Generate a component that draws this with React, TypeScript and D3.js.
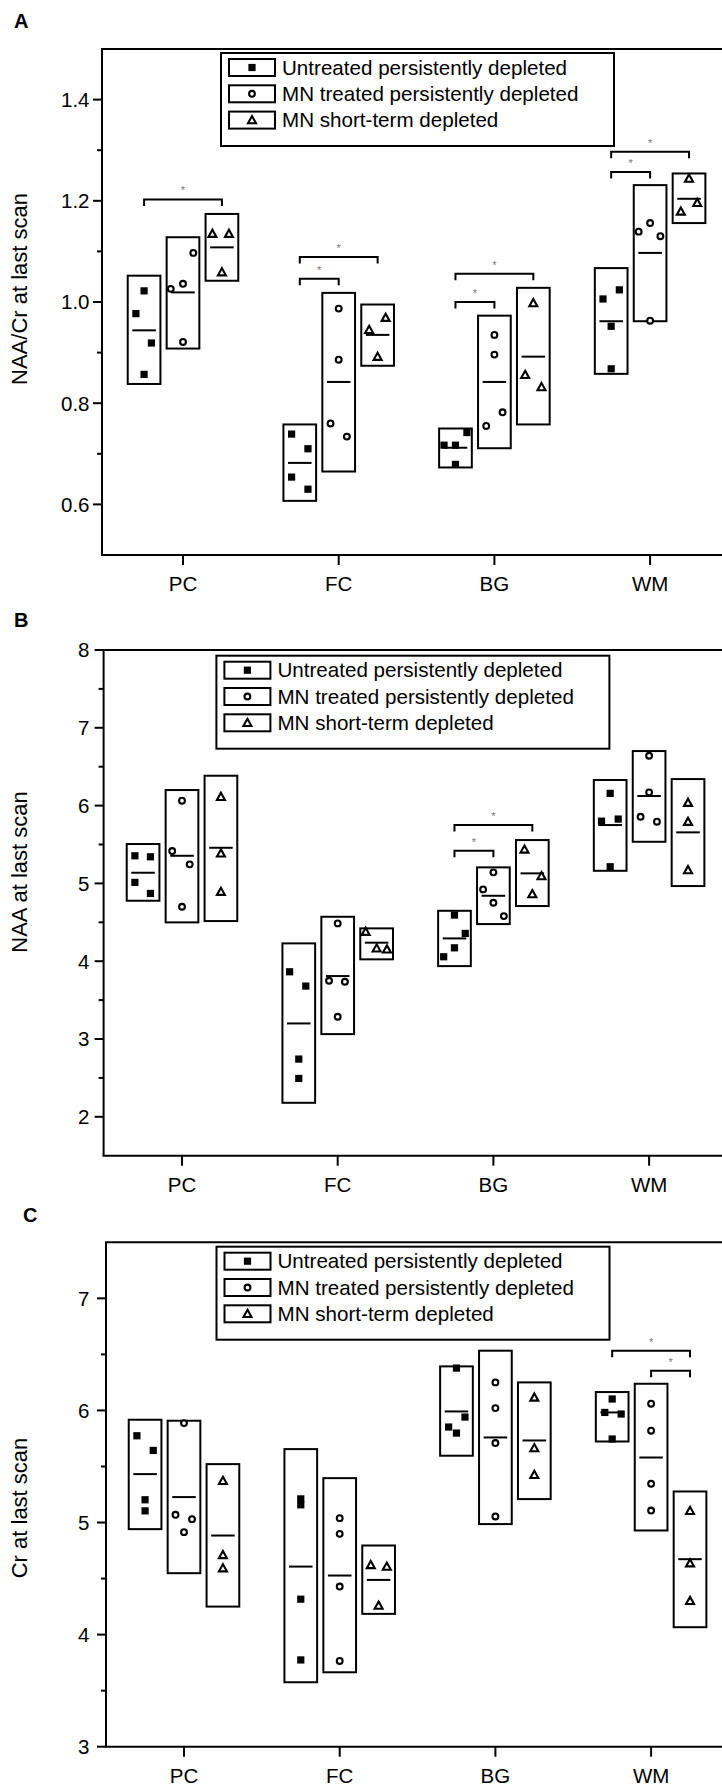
import * as d3 from "d3";

const regions = ["PC", "FC", "BG", "WM"];
const groups = [
  "Untreated persistently depleted",
  "MN treated persistently depleted",
  "MN short-term depleted",
];
const markerKinds = ["square", "circle", "triangle"];
const groupOffsets = [-0.25, 0, 0.25];

// ---- A: NAA/Cr at last scan (rows = group, columns = region) ----
const naaCrMean = [
  [0.944, 0.682, 0.712, 0.962],
  [1.019, 0.842, 0.842, 1.097],
  [1.108, 0.935, 0.892, 1.204],
];
const naaCrLow = [
  [0.838, 0.607, 0.673, 0.858],
  [0.908, 0.665, 0.711, 0.962],
  [1.042, 0.874, 0.758, 1.156],
];
const naaCrHigh = [
  [1.052, 0.758, 0.75, 1.067],
  [1.128, 1.018, 0.973, 1.231],
  [1.174, 0.995, 1.028, 1.254],
];
const naaCrPoints = [
  [[1.022, 0.977, 0.919, 0.857], [0.739, 0.71, 0.654, 0.63], [0.717, 0.717, 0.742, 0.679], [1.006, 1.024, 0.952, 0.868]],
  [[1.026, 1.036, 1.097, 0.921], [0.987, 0.886, 0.76, 0.734], [0.935, 0.896, 0.782, 0.755], [1.139, 1.156, 1.13, 0.963]],
  [[1.135, 1.135, 1.059], [0.945, 0.969, 0.892], [0.998, 0.856, 0.832], [1.244, 1.179, 1.196]],
];
// horizontal scatter of each point, as a share of half a box width
const naaCrJitter = [
  [[0, -0.5, 0.45, 0], [-0.5, 0.5, -0.5, 0.5], [-0.7, 0, 0.7, 0], [-0.5, 0.5, 0, 0]],
  [[-0.75, 0, 0.63, 0], [0, 0, -0.5, 0.5], [0, 0, 0.5, -0.5], [-0.7, 0, 0.63, 0]],
  [[-0.58, 0.43, 0], [-0.52, 0.49, 0], [0, -0.5, 0.5], [0, -0.5, 0.5]],
];
// significance brackets: region, from group, to group, height
const naaCrSig = [
  [0, 0, 2, 1.2026],
  [1, 0, 1, 1.046],
  [1, 0, 2, 1.089],
  [2, 0, 1, 1.0],
  [2, 0, 2, 1.056],
  [3, 0, 1, 1.257],
  [3, 0, 2, 1.297],
];
const naaCrTicks = [0.6, 0.8, 1.0, 1.2, 1.4];
const naaCrMinor = [0.7, 0.9, 1.1, 1.3];

// ---- B: NAA at last scan ----
const naaMean = [
  [5.137, 3.2, 4.293, 5.75],
  [5.355, 3.809, 4.841, 6.123],
  [5.458, 4.238, 5.129, 5.656],
];
const naaLow = [
  [4.777, 2.18, 3.937, 5.162],
  [4.499, 3.063, 4.477, 5.535],
  [4.516, 4.024, 4.709, 4.966],
];
const naaHigh = [
  [5.506, 4.229, 4.648, 6.329],
  [6.2, 4.571, 5.206, 6.701],
  [6.384, 4.422, 5.557, 6.341],
];
const naaPoints = [
  [[5.355, 5.342, 5.013, 4.871], [3.864, 3.68, 2.742, 2.493], [4.593, 4.357, 4.172, 4.057], [6.157, 5.8, 5.827, 5.214]],
  [[6.063, 5.416, 5.245, 4.7], [4.486, 3.749, 3.736, 3.286], [5.142, 4.923, 4.751, 4.58], [6.641, 6.17, 5.857, 5.793]],
  [[6.114, 5.386, 4.893], [4.379, 4.165, 4.152], [5.437, 5.094, 4.863], [6.037, 5.793, 5.172]],
];
const naaJitter = [
  [[-0.5, 0.45, -0.5, 0.45], [-0.56, 0.43, 0, 0], [0, 0.66, 0, -0.66], [0, -0.53, 0.49, 0]],
  [[0, -0.6, 0.47, 0], [0, -0.53, 0.44, 0], [0, -0.63, 0, 0.64], [0, 0, -0.52, 0.48]],
  [[0, 0, 0], [-0.67, 0, 0.63], [-0.48, 0.56, 0], [0, 0, 0]],
];
const naaSig = [
  [2, 0, 1, 5.42],
  [2, 0, 2, 5.75],
];
const naaTicks = [2, 3, 4, 5, 6, 7, 8];
const naaMinor = [2.5, 3.5, 4.5, 5.5, 6.5, 7.5];

// ---- C: Cr at last scan ----
const crMean = [
  [5.432, 4.607, 5.991, 5.982],
  [5.227, 4.527, 5.759, 5.58],
  [4.884, 4.488, 5.732, 4.673],
];
const crLow = [
  [4.941, 3.575, 5.596, 5.723],
  [4.548, 3.664, 4.986, 4.929],
  [4.25, 4.185, 5.209, 4.066],
];
const crHigh = [
  [5.917, 5.655, 6.393, 6.164],
  [5.908, 5.396, 6.533, 6.238],
  [5.521, 4.795, 6.25, 5.277],
];
const crPoints = [
  [[5.774, 5.643, 5.203, 5.104], [5.211, 5.158, 4.316, 3.774], [6.378, 5.941, 5.852, 5.798], [6.102, 5.982, 5.968, 5.745]],
  [[5.887, 5.069, 5.03, 4.914], [5.039, 4.899, 4.429, 3.765], [6.25, 6.021, 5.709, 5.054], [6.06, 5.819, 5.346, 5.107]],
  [[5.372, 4.711, 4.593], [4.622, 4.607, 4.259], [6.116, 5.664, 5.426], [5.104, 4.637, 4.301]],
];
const crJitter = [
  [[-0.5, 0.5, 0, 0], [0, 0, 0, 0], [0, 0.52, -0.48, 0], [0, -0.45, 0.55, 0]],
  [[0, -0.52, 0.49, 0], [0, 0, 0, 0], [0, 0, 0, 0], [0, 0, 0, 0]],
  [[0, 0, 0], [-0.48, 0.5, 0], [0, 0, 0], [0, 0, 0]],
];
const crSig = [
  [3, 0, 2, 6.533],
  [3, 1, 2, 6.355],
];
const crTicks = [3, 4, 5, 6, 7];
const crMinor = [3.5, 4.5, 5.5, 6.5];

const FONT = "'Liberation Sans', Arial, Helvetica, sans-serif";
const W = 722;
const H = 1788;
const catStep = 155.7;
const boxW = 0.21; // in category units

function Marker({ kind, x, y }) {
  if (kind === "square") {
    return <rect x={x - 3.6} y={y - 3.6} width={7.2} height={7.2} fill="#000" />;
  }
  if (kind === "circle") {
    return <circle cx={x} cy={y} r={2.9} fill="#fff" stroke="#000" strokeWidth={2.1} />;
  }
  return (
    <path
      d={`M${x},${y - 4}L${x + 4},${y + 3.2}L${x - 4},${y + 3.2}Z`}
      fill="#fff"
      stroke="#000"
      strokeWidth={2.1}
      strokeLinejoin="miter"
    />
  );
}

function Panel({ cfg, mean, low, high, points, jitter, sig, ticks, minor, fmt }) {
  const { letter, letterX, letterY, left, top, bottom, pcX, yDomain, legendX, legendY, title, titleY } = cfg;
  const x = d3.scaleLinear().domain([1, 4]).range([pcX, pcX + 3 * catStep]);
  const y = d3.scaleLinear().domain(yDomain).range([bottom, top]);
  const bw = x(1 + boxW) - x(1);
  const half = bw / 2;
  const gx = (r: number, g: number) => x(r + 1 + groupOffsets[g]);

  return (
    <g fontFamily={FONT}>
      <text x={letterX} y={letterY} fontSize={20} fontWeight="bold">
        {letter}
      </text>

      {/* frame: top line, left axis, bottom axis */}
      <line x1={left - 1} x2={W} y1={top} y2={top} stroke="#000" strokeWidth={2} />
      <line x1={left} x2={left} y1={top} y2={bottom} stroke="#000" strokeWidth={2} />
      <line x1={left - 1} x2={W} y1={bottom} y2={bottom} stroke="#000" strokeWidth={2} />

      {ticks.map((t) => (
        <g key={"t" + t}>
          <line x1={left - 9} x2={left} y1={y(t)} y2={y(t)} stroke="#000" strokeWidth={2} />
          <text x={89.5} y={y(t) + 7.3} textAnchor="end" fontSize={20.5}>
            {fmt(t)}
          </text>
        </g>
      ))}
      {minor.map((t) => (
        <line key={"m" + t} x1={left - 5} x2={left} y1={y(t)} y2={y(t)} stroke="#000" strokeWidth={2} />
      ))}

      {regions.map((r, i) => (
        <g key={r}>
          <line x1={x(i + 1)} x2={x(i + 1)} y1={bottom} y2={bottom + 10} stroke="#000" strokeWidth={2} />
          <text x={x(i + 1)} y={bottom + 36} textAnchor="middle" fontSize={20.5}>
            {r}
          </text>
        </g>
      ))}

      <text
        transform={`translate(19,${titleY}) rotate(-90)`}
        textAnchor="middle"
        dominantBaseline="central"
        fontSize={22}
      >
        {title}
      </text>

      {/* boxes, mean lines and points */}
      {groups.map((_, g) =>
        regions.map((r, i) => {
          const cx = gx(i, g);
          return (
            <g key={g + r}>
              <rect
                x={cx - half}
                y={y(high[g][i])}
                width={bw}
                height={y(low[g][i]) - y(high[g][i])}
                fill="none"
                stroke="#000"
                strokeWidth={2}
              />
              <line
                x1={cx - bw * 0.36}
                x2={cx + bw * 0.36}
                y1={y(mean[g][i])}
                y2={y(mean[g][i])}
                stroke="#000"
                strokeWidth={2}
              />
              {points[g][i].map((v, k) => (
                <Marker key={k} kind={markerKinds[g]} x={cx + jitter[g][i][k] * half} y={y(v)} />
              ))}
            </g>
          );
        })
      )}

      {/* significance brackets */}
      {sig.map(([r, g1, g2, v], k) => {
        const x1 = gx(r, g1);
        const x2 = gx(r, g2);
        const yy = y(v);
        return (
          <g key={"s" + k}>
            <path
              d={`M${x1},${yy + 6.5}V${yy}H${x2}V${yy + 6.5}`}
              fill="none"
              stroke="#000"
              strokeWidth={2}
            />
            <text x={(x1 + x2) / 2} y={yy - 5} textAnchor="middle" fontSize={11} fill="#777">
              *
            </text>
          </g>
        );
      })}

      {/* legend */}
      <g transform={`translate(${legendX},${legendY})`}>
        <rect x={0} y={0} width={393} height={93} fill="#fff" stroke="#000" strokeWidth={2} />
        {groups.map((name, g) => {
          const cy = 14.5 + g * 26.3;
          return (
            <g key={name}>
              <rect x={8} y={cy - 8.5} width={46} height={17} fill="#fff" stroke="#000" strokeWidth={2} />
              <Marker kind={markerKinds[g]} x={31} y={cy} />
              <text x={61} y={cy + 7.3} fontSize={20.6}>
                {name}
              </text>
            </g>
          );
        })}
      </g>
    </g>
  );
}

const panelA = {
  letter: "A", letterX: 14, letterY: 27.5,
  left: 102, top: 49, bottom: 555, pcX: 183, yDomain: [0.5, 1.5],
  legendX: 221, legendY: 53, title: "NAA/Cr at last scan", titleY: 289,
};
const panelB = {
  letter: "B", letterX: 14, letterY: 627,
  left: 103.6, top: 650, bottom: 1155.7, pcX: 182, yDomain: [1.5, 8],
  legendX: 216.4, legendY: 655.7, title: "NAA at last scan", titleY: 872,
};
const panelC = {
  letter: "C", letterX: 23, letterY: 1222,
  left: 106, top: 1242.3, bottom: 1746.7, pcX: 184, yDomain: [3, 7.5],
  legendX: 216.5, legendY: 1246.7, title: "Cr at last scan", titleY: 1508,
};

export default function App() {
  return (
    <svg
      width={W}
      height={H}
      viewBox={`0 0 ${W} ${H}`}
      style={{ position: "absolute", left: 0, top: 0, background: "#fff" }}
    >
      <Panel
        cfg={panelA}
        mean={naaCrMean}
        low={naaCrLow}
        high={naaCrHigh}
        points={naaCrPoints}
        jitter={naaCrJitter}
        sig={naaCrSig}
        ticks={naaCrTicks}
        minor={naaCrMinor}
        fmt={(t) => t.toFixed(1)}
      />
      <Panel
        cfg={panelB}
        mean={naaMean}
        low={naaLow}
        high={naaHigh}
        points={naaPoints}
        jitter={naaJitter}
        sig={naaSig}
        ticks={naaTicks}
        minor={naaMinor}
        fmt={(t) => String(t)}
      />
      <Panel
        cfg={panelC}
        mean={crMean}
        low={crLow}
        high={crHigh}
        points={crPoints}
        jitter={crJitter}
        sig={crSig}
        ticks={crTicks}
        minor={crMinor}
        fmt={(t) => String(t)}
      />
    </svg>
  );
}
